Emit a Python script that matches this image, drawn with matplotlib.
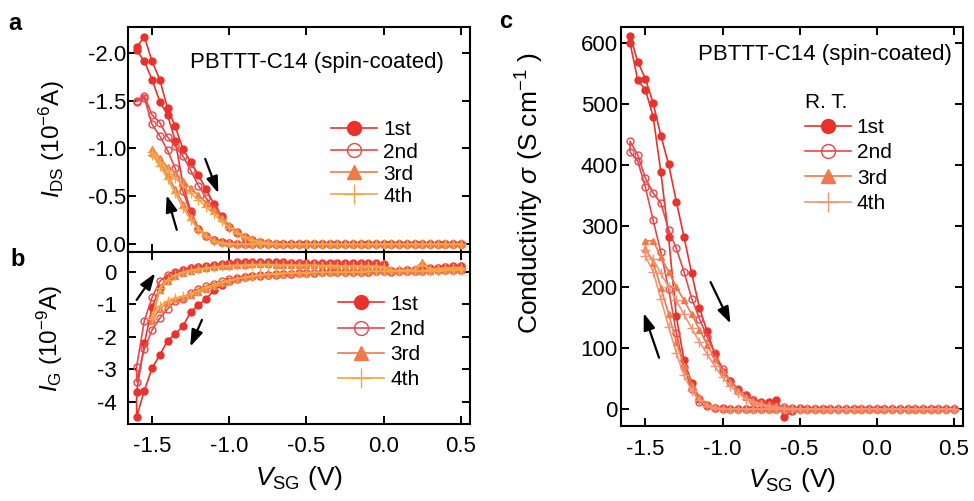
import matplotlib
matplotlib.use('Agg')
import matplotlib.pyplot as plt
from matplotlib.ticker import MultipleLocator, FormatStrFormatter

plt.rcParams['font.family'] = ['Liberation Sans', 'DejaVu Sans']
plt.rcParams['mathtext.fontset'] = 'custom'
plt.rcParams['mathtext.rm'] = 'Liberation Sans'
plt.rcParams['mathtext.it'] = 'Liberation Sans:italic'
plt.rcParams['mathtext.bf'] = 'Liberation Sans:bold'

# gate voltage sweep grid (V), ascending
V = [-1.60, -1.55, -1.50, -1.45, -1.40, -1.35, -1.30, -1.25, -1.20, -1.15, -1.10, -1.05,
     -1.00, -0.95, -0.90, -0.85, -0.80, -0.75, -0.70, -0.65, -0.60, -0.55, -0.50, -0.45,
     -0.40, -0.35, -0.30, -0.25, -0.20, -0.15, -0.10, -0.05,
     0.00, 0.05, 0.10, 0.15, 0.20, 0.25, 0.30, 0.35, 0.40, 0.45, 0.50]
V_short = V[2:]   # 3rd / 4th sweeps stop at -1.5 V

labels = ['1st', '2nd', '3rd', '4th']

# ---- panel a : I_DS (1e-6 A); fwd = sweep towards negative, bwd = sweep back
ids1_fwd = [-2.03, -1.91, -1.72, -1.49, -1.35, -1.08, -0.62, -0.34, -0.16, -0.08, -0.04, -0.02,
            -0.01, 0, 0, 0, 0, 0, 0, 0, 0, 0, 0, 0, 0, 0, 0, 0, 0, 0, 0, 0,
            0, 0, 0, 0, 0, 0, 0, 0, 0, 0, 0]
ids1_bwd = [-2.06, -2.17, -1.91, -1.72, -1.42, -1.23, -0.99, -0.86, -0.72, -0.57, -0.42, -0.29,
            -0.18, -0.12, -0.07, -0.04, -0.02, -0.01, 0, 0, 0, 0, 0, 0, 0, 0, 0, 0, 0, 0, 0, 0,
            0, 0, 0, 0, 0, 0, 0, 0, 0, 0, 0]
ids2_fwd = [-1.49, -1.53, -1.25, -1.13, -0.98, -0.79, -0.55, -0.32, -0.16, -0.08, -0.04, -0.02,
            -0.01, 0, 0, 0, 0, 0, 0, 0, 0, 0, 0, 0, 0, 0, 0, 0, 0, 0, 0, 0,
            0, 0, 0, 0, 0, 0, 0, 0, 0, 0, 0]
ids2_bwd = [-1.50, -1.55, -1.35, -1.27, -1.12, -1.02, -0.92, -0.77, -0.61, -0.48, -0.37, -0.27,
            -0.18, -0.11, -0.07, -0.04, -0.02, -0.01, 0, 0, 0, 0, 0, 0, 0, 0, 0, 0, 0, 0, 0, 0,
            0, 0, 0, 0, 0, 0, 0, 0, 0, 0, 0]
ids3_fwd = [-0.95, -0.85, -0.72, -0.57, -0.42, -0.28, -0.17, -0.09, -0.04, -0.02,
            -0.01, 0, 0, 0, 0, 0, 0, 0, 0, 0, 0, 0, 0, 0, 0, 0, 0, 0, 0, 0,
            0, 0, 0, 0, 0, 0, 0, 0, 0, 0, 0]
ids3_bwd = [-0.99, -0.90, -0.80, -0.74, -0.66, -0.58, -0.51, -0.43, -0.35, -0.27,
            -0.20, -0.13, -0.08, -0.05, -0.03, -0.02, -0.01, 0, 0, 0, 0, 0, 0, 0, 0, 0, 0, 0, 0, 0,
            0, 0, 0, 0, 0, 0, 0, 0, 0, 0, 0]
ids4_fwd = [-0.93, -0.82, -0.68, -0.53, -0.38, -0.25, -0.15, -0.08, -0.03, -0.01,
            0, 0, 0, 0, 0, 0, 0, 0, 0, 0, 0, 0, 0, 0, 0, 0, 0, 0, 0, 0,
            0, 0, 0, 0, 0, 0, 0, 0, 0, 0, 0]
ids4_bwd = [-0.96, -0.86, -0.77, -0.69, -0.61, -0.53, -0.46, -0.39, -0.31, -0.24,
            -0.17, -0.11, -0.07, -0.04, -0.02, -0.01, 0, 0, 0, 0, 0, 0, 0, 0, 0, 0, 0, 0, 0, 0,
            0, 0, 0, 0, 0, 0, 0, 0, 0, 0, 0]

# ---- panel b : I_G (1e-9 A)
ig1_fwd = [-4.45, -3.65, -2.96, -2.56, -2.12, -1.91, -1.67, -1.24, -1.02, -0.84, -0.57, -0.40,
           -0.28, -0.22, -0.18, -0.15, -0.13, -0.11, -0.09, -0.08, -0.06, -0.05, -0.04, -0.03,
           -0.02, -0.02, -0.01, -0.01, 0.00, 0.00, 0.00, 0.01,
           0.01, 0.01, 0.02, 0.02, 0.03, 0.03, 0.04, 0.04, 0.05, 0.05, 0.06]
ig1_bwd = [-3.68, -2.20, -1.10, -0.50, -0.20, -0.05, 0.05, 0.10, 0.15, 0.18, 0.20, 0.22,
           0.25, 0.28, 0.30, 0.30, 0.30, 0.28, 0.28, 0.28, 0.27, 0.27, 0.27, 0.26,
           0.26, 0.26, 0.25, 0.25, 0.25, 0.25, 0.25, 0.25,
           0.22, 0.00, 0.02, 0.04, 0.06, 0.08, 0.10, 0.12, 0.14, 0.16, 0.18]
ig2_fwd = [-3.37, -2.37, -1.79, -1.43, -1.15, -0.90, -0.85, -0.66, -0.53, -0.45, -0.37, -0.30,
           -0.24, -0.20, -0.16, -0.13, -0.11, -0.09, -0.08, -0.07, -0.06, -0.05, -0.04, -0.03,
           -0.02, -0.02, -0.01, -0.01, 0.00, 0.00, 0.00, 0.01,
           0.01, 0.01, 0.02, 0.02, 0.03, 0.03, 0.04, 0.04, 0.05, 0.05, 0.06]
ig2_bwd = [-2.91, -1.50, -0.79, -0.30, -0.10, 0.00, 0.05, 0.10, 0.13, 0.15, 0.18, 0.20,
           0.22, 0.25, 0.27, 0.27, 0.27, 0.26, 0.26, 0.25, 0.25, 0.25, 0.24, 0.24,
           0.24, 0.23, 0.23, 0.23, 0.22, 0.22, 0.22, 0.22,
           0.20, 0.01, 0.02, 0.04, 0.05, 0.07, 0.09, 0.11, 0.13, 0.15, 0.17]
ig3_fwd = [-1.50, -1.15, -0.95, -0.85, -0.80, -0.72, -0.62, -0.52, -0.43, -0.36,
           -0.29, -0.23, -0.18, -0.14, -0.11, -0.09, -0.07, -0.06, -0.05, -0.04,
           -0.03, -0.02, -0.02, -0.01, -0.01, 0.00, 0.00, 0.00, 0.01, 0.01,
           0.01, 0.02, 0.02, 0.02, 0.03, 0.03, 0.03, 0.04, 0.04, 0.05, 0.05]
ig3_bwd = [-1.45, -0.55, -0.28, -0.12, -0.03, 0.03, 0.07, 0.10, 0.13, 0.16,
           0.18, 0.20, 0.21, 0.22, 0.22, 0.22, 0.21, 0.21, 0.20, 0.20,
           0.20, 0.19, 0.19, 0.19, 0.18, 0.18, 0.18, 0.18, 0.17, 0.17,
           0.15, 0.03, 0.04, 0.05, 0.07, 0.30, 0.09, 0.10, 0.11, 0.12, 0.13]
ig4_fwd = [-1.45, -1.05, -0.90, -0.82, -0.76, -0.68, -0.58, -0.48, -0.40, -0.33,
           -0.27, -0.21, -0.17, -0.13, -0.10, -0.08, -0.06, -0.05, -0.04, -0.03,
           -0.03, -0.02, -0.02, -0.01, -0.01, 0.00, 0.00, 0.00, 0.01, 0.01,
           0.01, 0.01, 0.02, 0.02, 0.02, 0.03, 0.03, 0.03, 0.04, 0.04, 0.04]
ig4_bwd = [-1.40, -0.50, -0.25, -0.10, -0.02, 0.04, 0.08, 0.11, 0.14, 0.16,
           0.18, 0.19, 0.20, 0.21, 0.21, 0.21, 0.20, 0.20, 0.20, 0.19,
           0.19, 0.19, 0.18, 0.18, 0.18, 0.17, 0.17, 0.17, 0.16, 0.16,
           0.14, 0.03, 0.04, 0.05, 0.06, 0.20, 0.08, 0.09, 0.10, 0.11, 0.12]

# ---- panel c : conductivity (S/cm)
s1_fwd = [600, 539, 523, 479, 388, 282, 152, 80, 42, 17, 6, 2,
          1, 0, 0, 0, 0, 0, 0, 0, 0, 0, 0, 0, 0, 0, 0, 0, 0, 0, 0, 0,
          0, 0, 0, 0, 0, 0, 0, 0, 0, 0, 0]
s1_bwd = [612, 569, 541, 501, 448, 401, 340, 282, 222, 166, 127, 90,
          61, 45, 31, 22, 14, 11, 11, 15, -14, -3, 0, 0, 0, 0, 0, 0, 0, 0, 0, 0,
          0, 0, 0, 0, 0, 0, 0, 0, 0, 0, 0]
s2_fwd = [421, 406, 363, 309, 257, 197, 125, 68, 33, 12, 4, 1,
          0, 0, 0, 0, 0, 0, 0, 0, 0, 0, 0, 0, 0, 0, 0, 0, 0, 0, 0, 0,
          0, 0, 0, 0, 0, 0, 0, 0, 0, 0, 0]
s2_bwd = [439, 416, 378, 354, 337, 294, 263, 225, 181, 148, 118, 92,
          66, 46, 33, 22, 15, 10, 7, 5, 3, 2, 1, 0, 0, 0, 0, 0, 0, 0, 0, 0,
          0, 0, 0, 0, 0, 0, 0, 0, 0, 0, 0]
s3_fwd = [262, 240, 199, 156, 110, 70, 40, 20, 8, 3,
          1, 0, 0, 0, 0, 0, 0, 0, 0, 0, 0, 0, 0, 0, 0, 0, 0, 0, 0, 0,
          0, 0, 0, 0, 0, 0, 0, 0, 0, 0, 0]
s3_bwd = [275, 276, 249, 225, 200, 178, 155, 130, 105, 82,
          62, 44, 30, 20, 13, 9, 6, 4, 2, 1, 0, 0, 0, 0, 0, 0, 0, 0, 0, 0,
          0, 0, 0, 0, 0, 0, 0, 0, 0, 0, 0]
s4_fwd = [250, 225, 180, 135, 92, 55, 30, 14, 5, 2,
          0, 0, 0, 0, 0, 0, 0, 0, 0, 0, 0, 0, 0, 0, 0, 0, 0, 0, 0, 0,
          0, 0, 0, 0, 0, 0, 0, 0, 0, 0, 0]
s4_bwd = [260, 245, 222, 200, 178, 155, 132, 110, 90, 70,
          52, 38, 26, 17, 11, 7, 4, 2, 1, 0, 0, 0, 0, 0, 0, 0, 0, 0, 0, 0,
          0, 0, 0, 0, 0, 0, 0, 0, 0, 0, 0]

c1 = '#E8322B'
c2 = '#E9474A'
c3 = '#EE7A4C'
c4 = '#F6A445'    # 4th in a, b
c4c = '#F39472'   # 4th in c

arrow = dict(arrowstyle='-|>,head_length=1.0,head_width=0.35', color='k', lw=1.6,
             shrinkA=0, shrinkB=0)


def styles(col4):
    return [dict(color=c1, marker='o', ms=5, mfc=c1, mec=c1),
            dict(color=c2, marker='o', ms=5, mfc='none', mec=c2, mew=1.0),
            dict(color=c3, marker='^', ms=5, mfc=c3, mec=c3),
            dict(color=col4, marker='+', ms=7, mew=1.0)]


def loop(ax, v, fwd, bwd, lab, st):
    # sweep 0.5 V -> negative end, then back to 0.5 V
    ax.plot(v[::-1] + v, fwd[::-1] + bwd, lw=1.2, label=lab, **st)


def style_axes(ax, ypad):
    for s in ax.spines.values():
        s.set_linewidth(1.5)
    ax.tick_params(which='both', direction='in', top=True, right=True,
                   length=6, width=1.4, labelsize=16)
    ax.tick_params(axis='y', pad=ypad)
    ax.tick_params(axis='x', pad=9)
    ax.set_xlim(-1.656, 0.558)
    ax.xaxis.set_major_locator(MultipleLocator(0.5))
    ax.xaxis.set_major_formatter(FormatStrFormatter('%.1f'))


fig = plt.figure(figsize=(9.74, 5.01), dpi=100)
axa = fig.add_axes([0.1314, 0.497, 0.351, 0.449])
axb = fig.add_axes([0.1314, 0.1537, 0.351, 0.3433])
axc = fig.add_axes([0.638, 0.1497, 0.3504, 0.7963])

# panel a
sa = styles(c4)
loop(axa, V, ids1_fwd, ids1_bwd, labels[0], sa[0])
loop(axa, V, ids2_fwd, ids2_bwd, labels[1], sa[1])
loop(axa, V_short, ids3_fwd, ids3_bwd, labels[2], sa[2])
loop(axa, V_short, ids4_fwd, ids4_bwd, labels[3], sa[3])
style_axes(axa, 1.5)
axa.set_ylim(0.085, -2.27)
axa.yaxis.set_major_locator(MultipleLocator(0.5))
axa.yaxis.set_major_formatter(FormatStrFormatter('%.1f'))
axa.tick_params(labelbottom=False)
axa.set_ylabel(r'$I_{\mathrm{DS}}$ (10$^{-6}$A)', fontsize=17.5)
axa.yaxis.set_label_coords(-0.178, 0.5)
axa.text(0.181, 0.844, 'PBTTT-C14 (spin-coated)', transform=axa.transAxes,
         fontsize=16, ha='left', va='center')
axa.legend(loc='upper left', bbox_to_anchor=(0.595, 0.585), frameon=False, fontsize=15,
           markerscale=2, handlelength=2.2, handletextpad=0.3, labelspacing=0.15,
           borderpad=0, borderaxespad=0)
axa.annotate('', xy=(-1.071, -0.53), xytext=(-1.156, -0.89), arrowprops=arrow)
axa.annotate('', xy=(-1.405, -0.51), xytext=(-1.34, -0.147), arrowprops=arrow)

# panel b
loop(axb, V, ig1_fwd, ig1_bwd, labels[0], sa[0])
loop(axb, V, ig2_fwd, ig2_bwd, labels[1], sa[1])
loop(axb, V_short, ig3_fwd, ig3_bwd, labels[2], sa[2])
loop(axb, V_short, ig4_fwd, ig4_bwd, labels[3], sa[3])
style_axes(axb, 8)
axb.set_ylim(-4.67, 0.6)
axb.yaxis.set_major_locator(MultipleLocator(1))
axb.yaxis.set_major_formatter(FormatStrFormatter('%d'))
axb.set_ylabel(r'$I_{\mathrm{G}}$ (10$^{-9}$A)', fontsize=17.5)
axb.yaxis.set_label_coords(-0.184, 0.5)
axb.set_xlabel(r'$V_{\mathrm{SG}}$ (V)', fontsize=19, labelpad=5)
axb.legend(loc='upper left', bbox_to_anchor=(0.615, 0.752), frameon=False, fontsize=15,
           markerscale=2, handlelength=2.2, handletextpad=0.3, labelspacing=0.3,
           borderpad=0, borderaxespad=0)
axb.annotate('', xy=(-1.48, -0.05), xytext=(-1.60, -0.87), arrowprops=arrow)
axb.annotate('', xy=(-1.253, -2.30), xytext=(-1.177, -1.48), arrowprops=arrow)

# panel c
sc = styles(c4c)
loop(axc, V, s1_fwd, s1_bwd, labels[0], sc[0])
loop(axc, V, s2_fwd, s2_bwd, labels[1], sc[1])
loop(axc, V_short, s3_fwd, s3_bwd, labels[2], sc[2])
loop(axc, V_short, s4_fwd, s4_bwd, labels[3], sc[3])
style_axes(axc, 2.5)
axc.set_ylim(-28, 626)
axc.yaxis.set_major_locator(MultipleLocator(100))
axc.set_ylabel(r'Conductivity $\sigma$ (S cm$^{-1}$ )', fontsize=19)
axc.yaxis.set_label_coords(-0.222, 0.584)
axc.set_xlabel(r'$V_{\mathrm{SG}}$ (V)', fontsize=19, labelpad=5)
axc.text(0.2236, 0.93, 'PBTTT-C14 (spin-coated)', transform=axc.transAxes,
         fontsize=16, ha='left', va='center')
axc.legend(loc='upper left', bbox_to_anchor=(0.537, 0.835), frameon=False, fontsize=15,
           markerscale=2, handlelength=2.2, handletextpad=0.3, labelspacing=0.3,
           borderpad=0, borderaxespad=0, title='R. T.', title_fontsize=15,
           alignment='left')
axc.annotate('', xy=(-0.948, 140), xytext=(-1.078, 208), arrowprops=arrow)
axc.annotate('', xy=(-1.511, 157), xytext=(-1.412, 84), arrowprops=arrow)

fig.text(0.0154, 0.954, 'a', fontsize=17, fontweight='bold', ha='center', va='center')
fig.text(0.018, 0.483, 'b', fontsize=17, fontweight='bold', ha='center', va='center')
fig.text(0.519, 0.958, 'c', fontsize=17, fontweight='bold', ha='center', va='center')

fig.savefig('out.png', dpi=100)
